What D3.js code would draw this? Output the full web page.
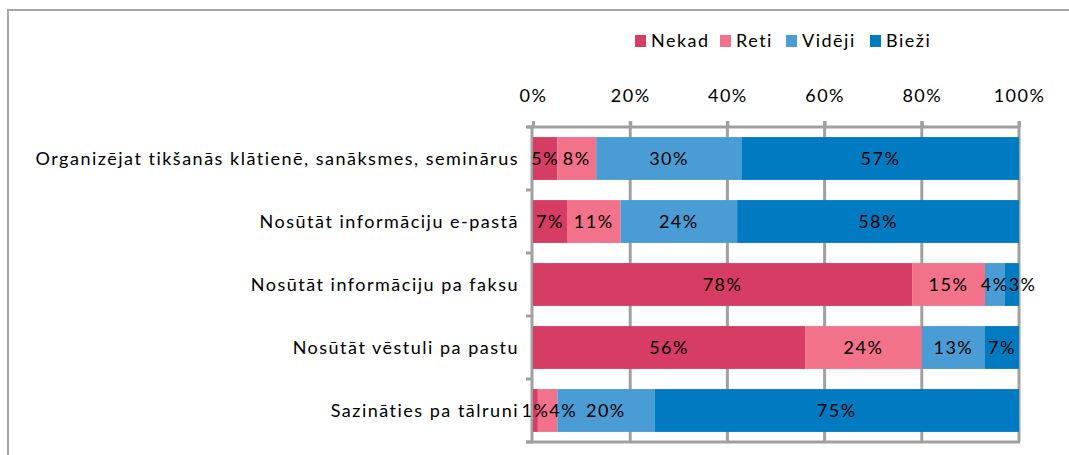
<!DOCTYPE html>
<html>
<head>
<meta charset="utf-8">
<script src="https://cdn.jsdelivr.net/npm/d3@7"></script>
<style>
  html, body { margin: 0; padding: 0; background: #fff; }
  svg { display: block; }
  text { font-family: Lato, "Open Sans", sans-serif; fill: #000; letter-spacing: 1.5px; }
</style>
</head>
<body>
<svg id="chart" width="1069" height="455"></svg>
<script>
// Survey: how often each communication channel is used (share of respondents, %)
const categories = [
  "Organizējat tikšanās klātienē, sanāksmes, seminārus",
  "Nosūtāt informāciju e-pastā",
  "Nosūtāt informāciju pa faksu",
  "Nosūtāt vēstuli pa pastu",
  "Sazināties pa tālruni"
];
const seriesNames = ["Nekad", "Reti", "Vidēji", "Bieži"];
const nekad  = [5, 7, 78, 56, 1];
const reti   = [8, 11, 15, 24, 4];
const videji = [30, 24, 4, 13, 20];
const biezi  = [57, 58, 3, 7, 75];
const tickValues = [0, 20, 40, 60, 80, 100];
const colors = ["#d63c64", "#f1728a", "#4a9cd5", "#007bc1"];

const rows = categories.map((c, i) => ({
  category: c,
  Nekad: nekad[i], Reti: reti[i], "Vidēji": videji[i], "Bieži": biezi[i]
}));

const svg = d3.select("#chart");
const fontSize = 18;
const letterSpacing = 1.5;

// outer frame
svg.append("rect")
  .attr("x", 8).attr("y", 10).attr("width", 1100).attr("height", 480)
  .attr("fill", "none").attr("stroke", "#a6a6a6").attr("stroke-width", 2);

const x = d3.scaleLinear().domain([0, 100]).range([533, 1019]);
const y = d3.scaleBand().domain(categories).range([127, 442]).paddingInner(0.32).paddingOuter(0.16);
const yOuter = d3.scaleBand().domain(categories).range([127, 442]);

const gridColor = "#a0a0a0";

// vertical gridlines
svg.append("g").selectAll("line").data(tickValues.slice(1)).join("line")
  .attr("x1", d => x(d)).attr("x2", d => x(d))
  .attr("y1", 121).attr("y2", 442)
  .attr("stroke", gridColor).attr("stroke-width", 3);

// top axis
const xAxis = d3.axisTop(x).tickValues(tickValues).tickSize(6).tickFormat(d => d + "%");
const gx = svg.append("g").attr("transform", "translate(0,127)").call(xAxis);
gx.select(".domain").attr("stroke", gridColor).attr("stroke-width", 3)
  .attr("d", `M527,0H${x(100)}`);
gx.selectAll(".tick line").attr("stroke", gridColor).attr("stroke-width", 3);
gx.selectAll(".tick text")
  .attr("y", -25)
  .style("font-size", fontSize + "px")
  .style("font-family", "Lato, sans-serif")
  .attr("fill", "#000");

// left axis (category boundaries as ticks)
const boundaries = categories.map(c => yOuter(c)).concat([442]);
svg.append("g").selectAll("line").data(boundaries).join("line")
  .attr("x1", 526).attr("x2", x(0))
  .attr("y1", d => d).attr("y2", d => d)
  .attr("stroke", gridColor).attr("stroke-width", 3);
svg.append("line")
  .attr("x1", x(0) - 1).attr("x2", x(0) - 1).attr("y1", 127).attr("y2", 443)
  .attr("stroke", gridColor).attr("stroke-width", 3);
// bottom line
svg.append("line")
  .attr("x1", 526).attr("x2", x(100) + 1).attr("y1", 442).attr("y2", 442)
  .attr("stroke", gridColor).attr("stroke-width", 3);

// category labels
svg.append("g").selectAll("text").data(categories).join("text")
  .attr("x", 519)
  .attr("y", d => y(d) + y.bandwidth() / 2)
  .attr("dy", "0.35em")
  .attr("text-anchor", "end")
  .style("font-size", fontSize + "px")
  .text(d => d);

// stacked bars
const stack = d3.stack().keys(seriesNames);
const stacked = stack(rows);

const layers = svg.append("g").selectAll("g").data(stacked).join("g")
  .attr("fill", (d, i) => colors[i]);

layers.selectAll("rect").data(d => d).join("rect")
  .attr("x", d => x(d[0]))
  .attr("y", d => y(d.data.category))
  .attr("width", d => x(d[1]) - x(d[0]))
  .attr("height", y.bandwidth());

// value labels, centred in each segment; crowded labels are pushed rightwards
const labelG = svg.append("g");
const labelGap = 3;
categories.forEach((cat, ri) => {
  const items = stacked.map(layer => {
    const seg = layer[ri];
    return { key: layer.key, value: seg.data[layer.key], x0: x(seg[0]), x1: x(seg[1]) };
  });
  let prevRight = -Infinity;
  items.forEach(it => {
    const t = labelG.append("text")
      .attr("y", y(cat) + y.bandwidth() / 2)
      .attr("dy", "0.35em")
      .attr("text-anchor", "middle")
      .style("font-size", fontSize + "px")
      .text(it.value + "%");
    const w = t.node().getComputedTextLength() - 2 * letterSpacing;
    let cx = (it.x0 + it.x1) / 2;
    if (cx - w / 2 < prevRight + labelGap) cx = prevRight + labelGap + w / 2;
    t.attr("x", cx);
    prevRight = cx + w / 2;
  });
});

// legend
const legendX = [635, 720, 786, 870];
const legend = svg.append("g").selectAll("g").data(seriesNames).join("g")
  .attr("transform", (d, i) => `translate(${legendX[i]},35)`);
legend.append("rect").attr("width", 11).attr("height", 12).attr("fill", (d, i) => colors[i]);
legend.append("text").attr("x", 16).attr("y", 6).attr("dy", "0.35em")
  .style("font-size", fontSize + "px").text(d => d);
</script>
</body>
</html>
